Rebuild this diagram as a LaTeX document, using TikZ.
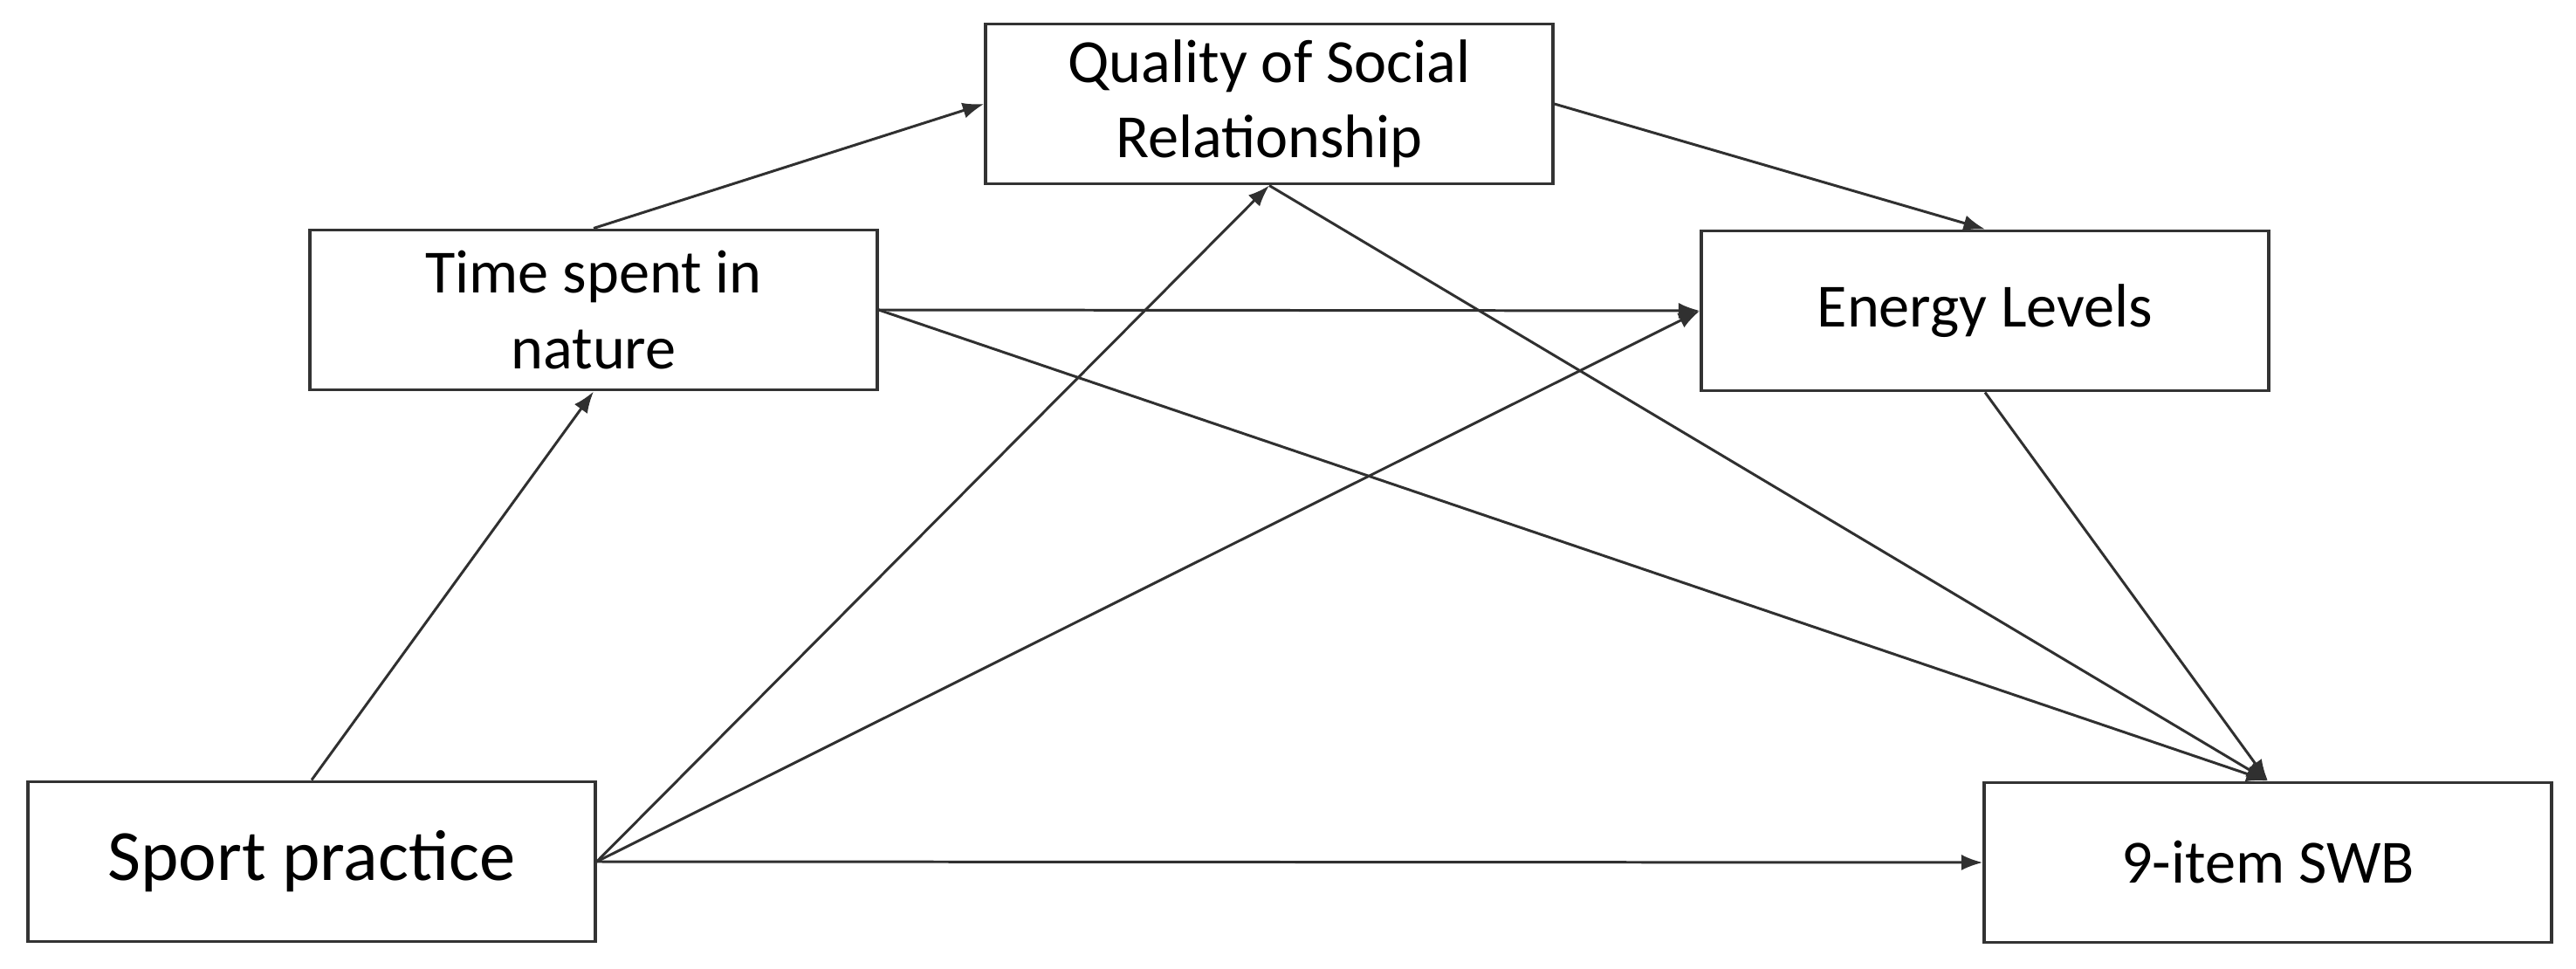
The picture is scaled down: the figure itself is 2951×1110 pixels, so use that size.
\documentclass[tikz,border=0pt]{standalone}
\usepackage{fontspec}
\setmainfont{Carlito}
\usetikzlibrary{arrows.meta}
\definecolor{boxline}{HTML}{333333}
\definecolor{arrline}{HTML}{303030}
\begin{document}
\begin{tikzpicture}[x=0.01cm,y=-0.01cm,
  varbox/.style={draw=boxline,line width=1.1pt,minimum width=6.49cm,minimum height=1.83cm,
    inner sep=0pt,align=center,font=\fontsize{20}{24.5}\selectfont,text=black},
  path/.style={draw=arrline,line width=0.85pt,-{Latex[length=7pt,width=5.2pt]}}]
\useasboundingbox (0,0) rectangle (2951,1110);
\node[varbox] (qsr) at (1454,119) {Quality of Social\\Relationship};
\node[varbox] (tsn) at (680,355) {Time spent in\\nature};
\node[varbox] (el) at (2274,356) {Energy Levels};
\node[varbox,font=\fontsize{23.5}{27}\selectfont] (sp) at (357,987) {Sport practice};
\node[varbox] (swb) at (2598,988) {9-item SWB};
\draw[path] (sp.north) -- (tsn.south);
\draw[path] (tsn.north) -- (qsr.west);
\draw[path] (qsr.east) -- (el.north);
\draw[path] (tsn.east) -- (el.west);
\draw[path] (tsn.east) -- (swb.north);
\draw[path] (sp.east) -- (qsr.south);
\draw[path] (qsr.south) -- (swb.north);
\draw[path] (sp.east) -- (el.west);
\draw[path] (el.south) -- (swb.north);
\draw[path] (sp.east) -- (swb.west);
\end{tikzpicture}
\end{document}
